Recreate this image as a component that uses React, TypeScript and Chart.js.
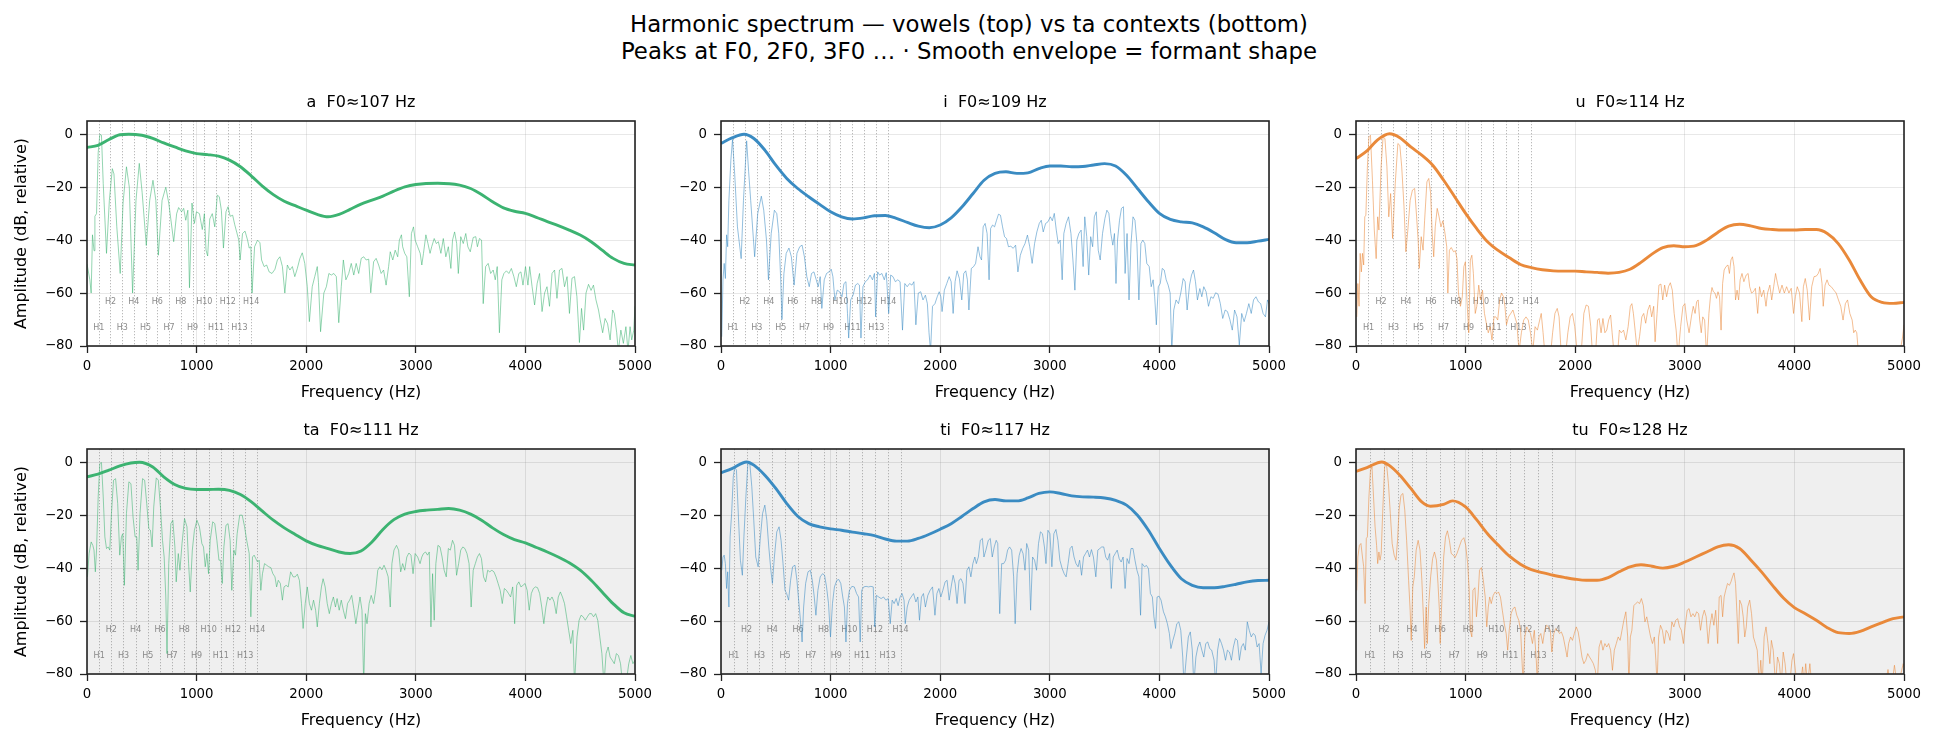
import React, { useEffect, useRef } from "react";
import { Chart, registerables } from "chart.js";
Chart.register(...registerables);

const FONT = "'DejaVu Sans', 'Liberation Sans', sans-serif";

const SUPTITLE_LINES = [
  "Harmonic spectrum — vowels (top) vs ta contexts (bottom)",
  "Peaks at F0, 2F0, 3F0 … · Smooth envelope = formant shape",
];
const X_AXIS_TITLE = "Frequency (Hz)";
const Y_AXIS_TITLE = "Amplitude (dB, relative)";

const PANEL_LABELS = ["a", "i", "u", "ta", "ti", "tu"];
const PANEL_F0 = [107, 109, 114, 111, 117, 128];
const HARMONIC_NUMBERS = [1, 2, 3, 4, 5, 6, 7, 8, 9, 10, 11, 12, 13, 14];
const X_TICKS = [0, 1000, 2000, 3000, 4000, 5000];
const Y_TICKS = [-80, -60, -40, -20, 0];

const A_ENVELOPE = [[0,-5],[100,-4.2],[200,-2],[300,-0.2],[380,0],[500,-0.4],[600,-1.6],[700,-3.3],[800,-4.8],[900,-6.3],[1000,-7.3],[1100,-7.7],[1200,-8.3],[1300,-9.8],[1400,-12.3],[1500,-15.8],[1600,-19.6],[1700,-22.8],[1800,-25.3],[1900,-27],[2000,-28.7],[2100,-30.3],[2200,-31.2],[2300,-30.3],[2400,-28.4],[2500,-26.4],[2600,-24.9],[2700,-23.4],[2800,-21.5],[2900,-19.9],[3000,-19],[3200,-18.5],[3400,-19.2],[3500,-20.5],[3600,-22.8],[3700,-25.5],[3800,-27.8],[3900,-29.1],[4000,-29.9],[4100,-31.4],[4200,-33],[4300,-34.5],[4400,-36.2],[4500,-38.1],[4600,-40.6],[4700,-43.8],[4800,-46.9],[4900,-48.8],[5000,-49.4]];

const I_ENVELOPE = [[0,-3.5],[100,-1.4],[210,0],[300,-1.6],[400,-6],[500,-11.7],[600,-16.7],[700,-20.5],[800,-23.6],[900,-26.5],[1000,-29.3],[1100,-31.2],[1200,-32],[1300,-31.6],[1400,-30.8],[1500,-30.7],[1600,-31.8],[1700,-33.3],[1800,-34.7],[1900,-35.3],[2000,-34.3],[2100,-31.6],[2200,-27.4],[2300,-22.4],[2400,-17.4],[2500,-14.8],[2600,-14.2],[2700,-14.8],[2800,-14.6],[2900,-13],[3000,-12],[3100,-12],[3200,-12.3],[3300,-12.2],[3400,-11.6],[3500,-11.1],[3600,-12],[3700,-15.5],[3800,-20.5],[3900,-25.5],[4000,-29.9],[4100,-32.2],[4200,-33.1],[4300,-33.5],[4400,-35],[4500,-37.2],[4600,-39.7],[4700,-41],[4800,-41],[4900,-40.4],[5000,-39.7]];

const U_ENVELOPE = [[0,-9.2],[100,-6.3],[200,-2],[306,0.2],[400,-1.3],[500,-4.8],[600,-7.9],[700,-11.7],[800,-17.4],[900,-23.6],[1000,-29.9],[1100,-35.6],[1200,-40.6],[1300,-44],[1400,-46.7],[1500,-49.2],[1600,-50.4],[1700,-51.2],[1800,-51.6],[1900,-51.7],[2000,-51.7],[2100,-52],[2200,-52.2],[2300,-52.5],[2400,-52.2],[2500,-51],[2600,-48.4],[2700,-45.3],[2800,-42.8],[2900,-42.1],[3000,-42.5],[3100,-42.1],[3200,-40],[3300,-37.1],[3400,-34.7],[3500,-34],[3600,-34.6],[3700,-35.6],[3800,-36],[3900,-36.2],[4000,-36.2],[4100,-36],[4200,-36],[4300,-37.5],[4400,-41.3],[4500,-47.5],[4600,-55.1],[4700,-61.4],[4800,-63.5],[4900,-63.9],[5000,-63.5]];

const TA_ENVELOPE = [[0,-5.5],[100,-4.5],[200,-3],[300,-1.4],[400,-0.3],[480,0],[600,-1.8],[700,-5.5],[800,-8.4],[900,-9.9],[1000,-10.3],[1100,-10.3],[1200,-10.2],[1300,-10.6],[1400,-12.2],[1500,-15],[1600,-18.5],[1700,-21.9],[1800,-24.8],[1900,-27.3],[2000,-29.7],[2100,-31.4],[2200,-32.6],[2300,-33.9],[2400,-34.5],[2500,-33.5],[2600,-30.1],[2700,-25.4],[2800,-21.7],[2900,-19.6],[3000,-18.6],[3100,-18.1],[3200,-17.8],[3300,-17.5],[3400,-18.1],[3500,-19.6],[3600,-21.9],[3700,-24.8],[3800,-27.3],[3900,-29.2],[4000,-30.5],[4100,-32.2],[4200,-33.9],[4300,-35.8],[4400,-38],[4500,-40.8],[4600,-44.6],[4700,-49],[4800,-53.4],[4900,-56.9],[5000,-58.2]];

const TI_ENVELOPE = [[0,-4],[100,-2.4],[234,0.1],[300,-1.1],[400,-4.9],[500,-9.9],[600,-15.6],[700,-20.4],[800,-23.2],[900,-24.4],[1000,-25.2],[1100,-25.7],[1200,-26.4],[1300,-27],[1400,-27.7],[1500,-29],[1600,-29.8],[1700,-29.8],[1800,-28.8],[1900,-27.2],[2000,-25.3],[2100,-23.2],[2200,-20.4],[2300,-17.5],[2400,-15],[2500,-14.1],[2600,-14.6],[2700,-14.6],[2800,-13.5],[2900,-11.8],[3000,-11.2],[3100,-11.8],[3200,-12.7],[3300,-13.1],[3400,-13.2],[3500,-13.5],[3600,-14.4],[3700,-16.2],[3800,-20],[3900,-25.7],[4000,-32.6],[4100,-38.9],[4200,-44],[4300,-46.5],[4400,-47.4],[4500,-47.4],[4600,-46.9],[4700,-46.1],[4800,-45.2],[4900,-44.7],[5000,-44.6]];

const TU_ENVELOPE = [[0,-3.5],[100,-2],[236,0.1],[300,-1.1],[400,-4.9],[500,-9.9],[600,-15],[680,-16.6],[800,-15.9],[880,-14.6],[1000,-16.9],[1100,-21.7],[1200,-27],[1300,-31.4],[1400,-35.5],[1500,-38.5],[1600,-40.6],[1700,-41.7],[1800,-42.7],[1900,-43.5],[2000,-44.2],[2100,-44.6],[2200,-44.6],[2300,-43.6],[2400,-41.4],[2500,-39.5],[2600,-38.7],[2700,-39.3],[2800,-40],[2900,-39.3],[3000,-37.7],[3100,-35.8],[3200,-33.9],[3300,-32],[3400,-31.2],[3500,-32.6],[3600,-36.8],[3700,-41.4],[3800,-46.5],[3900,-51.3],[4000,-54.9],[4100,-57.2],[4200,-59.7],[4300,-62.5],[4400,-64.4],[4500,-64.7],[4600,-63.9],[4700,-62.2],[4800,-60.6],[4900,-59.1],[5000,-58.4]];

const A_SPECTRUM = [[0,-49],[26,-55],[38,-60],[50,-38],[64,-44],[72,-31],[87,-30],[102,-7],[117,0],[132,-0.4],[148,-18.6],[178,-45],[204,-25],[231,-13],[246,-15],[272,-35],[303,-52.6],[329,-26],[360,-12.3],[386,-20],[416,-60],[447,-25],[477,-11],[503,-22],[541,-42],[572,-25],[602,-17.4],[628,-25],[651,-45.7],[685,-25],[719,-20],[746,-26],[791,-40.6],[818,-30],[836,-27.7],[863,-29.3],[882,-28],[901,-32.5],[920,-28.7],[935,-58],[958,-26],[980,-33.7],[999,-29.3],[1026,-30],[1052,-36],[1071,-30],[1086,-43.8],[1101,-46],[1120,-32],[1143,-30],[1166,-35],[1189,-23],[1207,-23.6],[1226,-28.7],[1245,-43],[1268,-29.3],[1287,-27.4],[1306,-31],[1329,-30.6],[1347,-34],[1366,-37],[1385,-40],[1397,-47.5],[1419,-37.5],[1442,-36.6],[1465,-40],[1480,-43],[1495,-42.5],[1506,-60],[1529,-42.5],[1556,-40],[1578,-41],[1593,-47.5],[1616,-50],[1639,-49.4],[1662,-52],[1688,-52.6],[1715,-51],[1737,-47.5],[1760,-46.3],[1783,-50],[1805,-60],[1828,-49.4],[1851,-51.3],[1874,-50],[1896,-53.8],[1919,-50.7],[1942,-47],[1964,-44.8],[1987,-48.8],[2010,-57.6],[2029,-70.8],[2055,-57.6],[2078,-53.8],[2101,-50],[2112,-56],[2131,-74.6],[2161,-60],[2184,-57.6],[2207,-52.6],[2229,-53.2],[2252,-52.6],[2275,-53.8],[2297,-71.2],[2320,-57.6],[2339,-47.5],[2362,-55],[2388,-52.6],[2411,-48.8],[2434,-53.2],[2456,-48.8],[2479,-52.6],[2502,-46.9],[2525,-46.3],[2547,-47.5],[2570,-47.2],[2589,-59.9],[2615,-48.2],[2638,-46.9],[2661,-49.4],[2684,-52.6],[2706,-51.3],[2729,-57],[2752,-50],[2767,-44.4],[2790,-47.5],[2812,-43.8],[2835,-46.3],[2850,-40],[2869,-38],[2880,-42.5],[2899,-45],[2918,-46.3],[2941,-61.4],[2960,-37.5],[2979,-35],[2994,-40],[3017,-42.5],[3040,-45],[3055,-49.4],[3070,-45],[3092,-38],[3111,-41.3],[3130,-45],[3145,-42.5],[3168,-39.4],[3187,-41.3],[3206,-40.6],[3229,-45],[3251,-39.4],[3274,-46.3],[3297,-42.5],[3320,-50.7],[3335,-40],[3354,-36.9],[3373,-41.3],[3388,-52.6],[3410,-38.7],[3433,-41.3],[3456,-37.5],[3475,-42.5],[3497,-44.4],[3524,-39],[3547,-38.7],[3562,-42.5],[3581,-39.4],[3600,-40],[3615,-64],[3637,-50],[3660,-48.8],[3683,-52.6],[3706,-51.3],[3725,-55],[3743,-50],[3763,-75],[3785,-55],[3804,-52.6],[3827,-51.6],[3849,-52.6],[3872,-50.7],[3895,-53.8],[3917,-57.6],[3940,-52.6],[3959,-52],[3978,-57],[4001,-50],[4023,-57],[4039,-50],[4061,-57.6],[4084,-64.5],[4107,-56.4],[4129,-52.6],[4152,-67],[4175,-60],[4197,-57.6],[4220,-65],[4243,-52.6],[4266,-51.3],[4288,-62],[4311,-51.3],[4334,-50.7],[4357,-57.6],[4380,-53.8],[4402,-67.7],[4425,-54.4],[4448,-53.8],[4470,-61.4],[4493,-78.7],[4512,-65.8],[4531,-74],[4553,-60],[4576,-56.7],[4599,-59],[4621,-57],[4644,-62.6],[4667,-66.4],[4682,-70],[4705,-75],[4727,-69.6],[4750,-71.6],[4773,-77.7],[4796,-66.4],[4811,-67.7],[4833,-75],[4848,-82],[4871,-74],[4894,-79],[4917,-72.7],[4936,-82],[4955,-72.7],[4970,-77.7],[4989,-74],[5000,-65]];

const I_SPECTRUM = [[7,-76.5],[18,-55],[29,-48.8],[40,-54.5],[51,-38],[61,-42.5],[72,-25],[90,-9.8],[105,-2],[125,-15],[150,-35],[184,-47],[205,-25],[234,-2.5],[252,-14],[271,-25],[307,-46.3],[335,-30],[368,-23.4],[390,-28.7],[415,-40],[433,-55],[458,-37.5],[487,-28.7],[509,-30],[527,-37.5],[545,-55],[556,-70],[574,-52.6],[595,-45],[620,-43],[642,-46.3],[667,-57],[693,-45],[718,-42.5],[740,-41.9],[761,-46.3],[783,-53.8],[805,-57.6],[826,-52.6],[848,-52],[869,-55],[887,-57.6],[905,-53.8],[920,-65.8],[942,-55],[963,-52.6],[985,-52],[1006,-51],[1021,-53.8],[1039,-62.6],[1061,-58.9],[1082,-59.5],[1104,-61.4],[1122,-56.4],[1140,-55.7],[1154,-67.7],[1165,-77],[1183,-62.6],[1205,-60.8],[1227,-57],[1248,-56.4],[1263,-57],[1277,-77],[1295,-57.6],[1317,-55.7],[1338,-55],[1360,-53.2],[1382,-55],[1400,-52.6],[1411,-69],[1429,-52],[1447,-53.2],[1468,-52.6],[1490,-55],[1508,-52.3],[1530,-67.7],[1548,-53.2],[1569,-53.8],[1591,-55.7],[1613,-55],[1634,-55.7],[1656,-74],[1677,-56.4],[1699,-57.6],[1721,-56.4],[1742,-57],[1760,-55.7],[1778,-72],[1800,-60],[1822,-59.5],[1843,-62.6],[1865,-60.8],[1883,-64],[1898,-75],[1912,-82],[1930,-65],[1952,-64],[1973,-61.4],[1991,-59.5],[2006,-61.4],[2017,-67],[2038,-58.9],[2060,-56.4],[2082,-53.8],[2100,-55.7],[2118,-67.7],[2136,-55.7],[2154,-51.6],[2175,-54.5],[2197,-62.6],[2215,-52.6],[2233,-51.6],[2248,-55],[2262,-66.4],[2284,-50.7],[2305,-50],[2323,-48.8],[2345,-42.5],[2363,-46.3],[2377,-47.5],[2392,-35],[2410,-33.7],[2428,-37.5],[2446,-55],[2460,-35.6],[2478,-34.3],[2496,-35],[2514,-32.5],[2532,-30.2],[2550,-30.6],[2569,-35],[2587,-38.7],[2605,-39.4],[2623,-42.5],[2644,-42.3],[2666,-43.1],[2688,-41.9],[2709,-52],[2731,-45.7],[2753,-43.1],[2774,-41.3],[2796,-38.1],[2817,-42.5],[2839,-48.8],[2861,-41.3],[2882,-36.9],[2904,-33.7],[2922,-32.5],[2940,-36.9],[2962,-33.7],[2983,-33.1],[3005,-31.2],[3023,-32.7],[3041,-29.9],[3059,-36.2],[3077,-41.3],[3095,-40],[3113,-55],[3128,-37.5],[3149,-33.7],[3171,-31.2],[3193,-37.5],[3211,-47.5],[3229,-58.9],[3247,-40],[3265,-37.5],[3286,-36.2],[3304,-50],[3319,-31.2],[3337,-38.7],[3355,-53.2],[3373,-38.7],[3391,-42.5],[3406,-31.2],[3424,-29.3],[3442,-43.8],[3460,-47.5],[3481,-37.5],[3503,-31.8],[3521,-28.7],[3539,-29.9],[3557,-37.5],[3575,-41.9],[3590,-37.5],[3604,-56.4],[3618,-40],[3636,-32.5],[3654,-28],[3672,-27.4],[3687,-52.6],[3705,-37.5],[3723,-62.6],[3741,-41.3],[3759,-31.2],[3777,-32.5],[3795,-41.3],[3813,-62.6],[3831,-41.3],[3849,-40],[3867,-41.3],[3885,-48.8],[3907,-50],[3925,-57.6],[3943,-55],[3957,-61.4],[3972,-72],[3990,-57.6],[4008,-56.4],[4026,-50.7],[4044,-51.3],[4062,-55],[4080,-57],[4098,-60],[4113,-82],[4131,-66.4],[4152,-62.6],[4174,-64],[4195,-60],[4217,-54.5],[4235,-55.7],[4253,-66.4],[4275,-57],[4293,-53.2],[4311,-51.3],[4329,-55.7],[4347,-62.6],[4369,-58.3],[4387,-61.4],[4405,-57.6],[4426,-59.5],[4448,-65],[4470,-61.4],[4491,-62],[4513,-59.9],[4535,-60.4],[4556,-64],[4578,-69.6],[4600,-66.4],[4621,-67],[4643,-70],[4665,-74],[4686,-66.4],[4708,-69],[4729,-79.6],[4751,-67.7],[4773,-70.8],[4794,-67.7],[4816,-64],[4838,-67.7],[4859,-62.6],[4881,-61.4],[4903,-63.3],[4924,-64],[4946,-67.7],[4968,-69],[4986,-62.6],[5000,-64]];

const U_SPECTRUM = [[7,-69],[17,-56.4],[28,-65],[38,-45],[49,-52],[59,-45],[70,-49.4],[80,-31.2],[90,-30.6],[104,-12.3],[118,-1],[132,-0.4],[150,-17.4],[167,-36.2],[184,-47],[198,-31.2],[209,-36.2],[229,-12.3],[247,-1],[264,-1.6],[282,-12.3],[299,-31.2],[316,-22.4],[334,-39.4],[358,-18.6],[382,-3.5],[400,-4.2],[417,-12.3],[438,-27.4],[455,-44.4],[473,-36.2],[494,-25],[515,-21.1],[535,-20.5],[553,-31.2],[567,-40],[577,-50.7],[595,-38.7],[612,-43.8],[626,-32.5],[647,-18],[664,-16.7],[681,-22.4],[695,-37.5],[709,-46.3],[723,-35],[741,-28],[758,-31.2],[775,-35],[793,-32.7],[810,-36.9],[828,-42.5],[838,-60],[852,-43.8],[869,-42.8],[890,-44.4],[907,-44],[921,-47],[935,-60],[953,-65],[970,-61.4],[984,-50],[998,-48.2],[1012,-62.6],[1029,-75],[1043,-47.5],[1057,-45.7],[1071,-52.6],[1088,-67.7],[1102,-65],[1120,-57],[1137,-62.6],[1154,-58.9],[1172,-67.7],[1189,-71.4],[1207,-75],[1224,-72.7],[1241,-77.7],[1259,-69],[1276,-69],[1293,-70.2],[1311,-62.6],[1328,-60],[1346,-61.4],[1359,-65],[1373,-72],[1391,-69],[1412,-67.7],[1432,-66.4],[1450,-69],[1467,-71.4],[1488,-82],[1509,-75],[1530,-70.2],[1551,-69],[1572,-70.2],[1592,-75],[1613,-82],[1634,-72.7],[1655,-74],[1676,-70.2],[1690,-67.7],[1707,-75],[1725,-84],[1749,-88],[1773,-84],[1794,-75],[1815,-67.7],[1836,-65.8],[1853,-69],[1871,-82],[1905,-86],[1933,-75],[1954,-69],[1975,-67.7],[1996,-72.7],[2017,-82],[2051,-85],[2079,-67.7],[2100,-64.5],[2121,-65],[2142,-72.7],[2156,-82],[2184,-84],[2204,-70.2],[2218,-69.6],[2236,-75],[2253,-69.6],[2271,-75],[2288,-74],[2305,-70.2],[2323,-68.3],[2337,-75],[2357,-84],[2385,-84],[2403,-74],[2420,-75],[2441,-74],[2462,-77.7],[2483,-72.7],[2503,-65],[2517,-64],[2531,-67.7],[2549,-75],[2566,-82],[2587,-76.5],[2608,-69],[2625,-67.7],[2643,-71.4],[2663,-66.4],[2681,-64.5],[2698,-69],[2716,-65],[2729,-78.4],[2747,-67.7],[2764,-57],[2782,-56.6],[2799,-62.6],[2816,-57],[2834,-61.4],[2851,-57.6],[2868,-56.1],[2886,-58.9],[2903,-67.7],[2921,-74],[2938,-84],[2962,-72.7],[2983,-65],[3001,-64],[3018,-70.2],[3039,-75],[3060,-69],[3077,-65],[3094,-67.7],[3108,-63.3],[3122,-62.6],[3136,-70.2],[3150,-75],[3164,-69],[3181,-70.2],[3199,-84],[3220,-67.7],[3234,-61.4],[3248,-57.9],[3261,-59.5],[3275,-60],[3289,-62],[3303,-59.5],[3317,-61.4],[3331,-74],[3345,-56.4],[3359,-51.3],[3376,-50],[3394,-49.4],[3407,-52.6],[3421,-47.5],[3435,-46.3],[3449,-50],[3463,-62.6],[3477,-58.9],[3491,-62.6],[3505,-55],[3522,-52.6],[3539,-55.7],[3560,-53.2],[3578,-52.6],[3592,-57.6],[3609,-60],[3626,-59.5],[3644,-58.2],[3665,-67.7],[3682,-57.6],[3700,-61.4],[3720,-58.9],[3741,-65],[3755,-60],[3776,-57],[3793,-62.6],[3811,-57.6],[3828,-52.6],[3846,-56.4],[3866,-60],[3887,-57],[3908,-60],[3929,-57.6],[3950,-60],[3971,-58.2],[3992,-67.7],[4009,-61.4],[4026,-57.6],[4047,-60],[4068,-70.8],[4082,-57.6],[4099,-54.5],[4117,-58.9],[4138,-70.2],[4158,-57.6],[4179,-53.8],[4200,-53.6],[4218,-52.6],[4235,-50.7],[4252,-56.4],[4263,-65],[4280,-57],[4298,-55],[4315,-57],[4336,-57.6],[4360,-58.9],[4381,-60],[4402,-62.6],[4423,-65],[4444,-70.2],[4465,-64],[4485,-62.6],[4506,-67.7],[4527,-70.2],[4541,-75],[4555,-74],[4569,-75],[4583,-82],[4650,-90],[4800,-94],[4950,-85],[4986,-77],[5000,-72]];

const TA_SPECTRUM = [[4,-43.3],[19,-34.5],[38,-30.1],[53,-31.4],[64,-33.2],[76,-41.4],[87,-33.2],[102,-13.1],[117,-0.5],[132,-0.1],[148,-13.1],[163,-28.2],[178,-32.6],[193,-32],[208,-33.2],[223,-19.4],[242,-6.8],[261,-6.2],[280,-15.6],[299,-35.1],[314,-28.2],[326,-27],[341,-46.5],[360,-19.4],[382,-7.4],[401,-8.1],[420,-20.7],[439,-28.2],[454,-28.2],[466,-40.8],[484,-19.4],[507,-6.2],[526,-6.8],[545,-15.6],[564,-25.1],[579,-25.7],[594,-32],[609,-16.9],[632,-5.9],[651,-6.8],[670,-16.9],[689,-29.5],[704,-35.8],[719,-50.9],[730,-72.3],[746,-38.3],[765,-23.2],[783,-21.9],[802,-32],[814,-45.2],[833,-34.5],[848,-40.8],[867,-30.7],[890,-21.3],[912,-24.4],[927,-38.3],[942,-49],[961,-33.2],[980,-25.7],[1003,-21.9],[1026,-24.4],[1048,-30.7],[1063,-32],[1079,-39.5],[1094,-34.5],[1109,-42.1],[1124,-29.5],[1147,-22.5],[1166,-23.2],[1185,-29.5],[1204,-37],[1219,-37],[1234,-45.8],[1249,-32],[1268,-23.8],[1287,-23.2],[1306,-29.5],[1321,-48.4],[1340,-33.2],[1355,-35.1],[1370,-27],[1393,-20],[1416,-20],[1438,-24.4],[1457,-29.5],[1480,-34.5],[1495,-58.4],[1510,-35.8],[1525,-35.1],[1540,-36.4],[1556,-37.7],[1571,-37],[1586,-48.4],[1601,-42.1],[1620,-38.3],[1639,-38.9],[1658,-39.5],[1677,-39.8],[1696,-42.1],[1715,-43.3],[1730,-47.1],[1745,-44.6],[1764,-45.8],[1783,-52.1],[1798,-47.1],[1817,-46.5],[1836,-47.1],[1858,-41.4],[1881,-43.3],[1900,-43.3],[1919,-42.3],[1938,-44.6],[1957,-53.4],[1972,-62.8],[1991,-53.4],[2010,-47.1],[2029,-53.4],[2048,-55.9],[2067,-52.1],[2086,-55.9],[2101,-62.2],[2120,-53.4],[2139,-47.1],[2154,-44],[2173,-47.1],[2192,-53.4],[2211,-57.2],[2230,-53.4],[2248,-50.9],[2267,-54.7],[2282,-51.5],[2301,-55.9],[2320,-52.1],[2339,-55.9],[2358,-59.1],[2377,-53.4],[2396,-52.1],[2415,-50.3],[2434,-55.3],[2453,-61],[2472,-55.9],[2491,-50.9],[2509,-55.9],[2525,-84],[2540,-57.2],[2555,-61],[2574,-53.4],[2593,-50.3],[2615,-53.4],[2634,-48.4],[2653,-40.8],[2672,-39.5],[2691,-40.6],[2710,-38.9],[2729,-40.8],[2748,-43.3],[2767,-54.7],[2782,-38.3],[2801,-33.2],[2824,-31.4],[2843,-33.2],[2862,-41.4],[2880,-38.3],[2899,-40.8],[2918,-35.8],[2937,-34.3],[2956,-35.1],[2975,-42.1],[2994,-34.5],[3017,-35.8],[3039,-38.3],[3055,-35.8],[3070,-34.5],[3089,-33.9],[3107,-35.1],[3123,-33.9],[3138,-62.2],[3153,-42.1],[3168,-59.7],[3183,-38.3],[3202,-31.4],[3221,-32],[3240,-35.8],[3259,-40.8],[3278,-43.3],[3297,-32.6],[3315,-33.2],[3335,-29.5],[3353,-31.4],[3372,-42.7],[3391,-38.3],[3410,-33.2],[3429,-32],[3448,-32.6],[3467,-34.5],[3486,-38.3],[3505,-54.7],[3524,-40.8],[3543,-38.3],[3562,-35.8],[3581,-34.5],[3599,-36.4],[3618,-43.3],[3637,-45.2],[3656,-40.8],[3675,-41.4],[3694,-40.8],[3713,-41.4],[3732,-43.3],[3751,-45.8],[3770,-48.4],[3789,-53.4],[3808,-47.7],[3827,-48.4],[3846,-49.6],[3865,-50.9],[3884,-47.1],[3902,-61],[3921,-46.5],[3940,-45.2],[3959,-47.1],[3978,-46.5],[3997,-45.8],[4016,-48.4],[4035,-55.9],[4054,-49.6],[4073,-47.7],[4092,-47.1],[4111,-47.4],[4130,-49.6],[4149,-54.7],[4168,-61],[4187,-54.7],[4205,-50.9],[4224,-52.1],[4243,-50.9],[4262,-52.8],[4281,-57.2],[4300,-50.9],[4319,-49],[4338,-50.9],[4357,-53.4],[4376,-58.4],[4395,-63.5],[4414,-68.5],[4433,-63.5],[4448,-84],[4471,-66],[4490,-59.7],[4508,-57.8],[4527,-58.4],[4546,-59.7],[4565,-58.4],[4584,-57.2],[4603,-57.2],[4622,-58.4],[4641,-57.2],[4660,-59.7],[4679,-66],[4698,-72.3],[4717,-84],[4736,-72.3],[4755,-69.8],[4773,-73.6],[4792,-74.8],[4811,-76.1],[4830,-72.3],[4849,-73],[4868,-76.1],[4887,-84],[4917,-84],[4943,-76.1],[4962,-73],[4981,-76.1],[5000,-74.8]];

const TI_SPECTRUM = [[7,-40.8],[18,-35.8],[29,-35.1],[40,-38.3],[51,-47.7],[61,-41.4],[72,-54.7],[83,-28.2],[97,-19.4],[112,-5.5],[126,-1.8],[141,-3],[159,-20.7],[177,-37],[195,-42.7],[209,-28.2],[227,-13.1],[245,-0.5],[263,-0.5],[281,-9.3],[299,-21.9],[317,-35.8],[339,-39.5],[357,-29.5],[379,-19.4],[400,-16.2],[418,-21.9],[436,-32],[455,-40.8],[469,-45.8],[487,-35.8],[509,-26.3],[530,-24.4],[548,-29.5],[566,-38.3],[584,-48.4],[599,-49.6],[617,-52.1],[635,-44.6],[653,-39.5],[675,-38.9],[693,-44.6],[711,-53.4],[725,-59.7],[740,-67.9],[754,-54.7],[772,-45.8],[794,-41.4],[815,-40.8],[833,-44.6],[851,-50.9],[866,-57.8],[884,-48.4],[905,-43.3],[927,-42.1],[945,-42.7],[963,-47.1],[981,-53.4],[999,-66],[1017,-53.4],[1035,-47.1],[1057,-44.6],[1075,-44.3],[1093,-45.8],[1111,-50.9],[1126,-54.7],[1140,-67.9],[1154,-53.4],[1172,-48.4],[1194,-46.9],[1216,-47.1],[1237,-49.6],[1255,-50.9],[1270,-67.9],[1284,-48.4],[1302,-47.1],[1324,-46.9],[1346,-47.1],[1367,-46.9],[1389,-47.1],[1403,-62.2],[1418,-50.3],[1439,-50.9],[1461,-51.5],[1483,-50.9],[1504,-52.1],[1526,-51.5],[1544,-61],[1562,-52.1],[1580,-53.4],[1598,-51.5],[1616,-54.2],[1634,-50.9],[1652,-49.6],[1670,-52.1],[1681,-61],[1699,-54.7],[1717,-52.1],[1735,-50.9],[1757,-49.6],[1778,-52.8],[1796,-50.9],[1811,-59.7],[1829,-50.9],[1847,-49.6],[1865,-54.7],[1887,-50.3],[1908,-48.4],[1930,-47.1],[1952,-57.8],[1970,-49.6],[1988,-47.7],[2006,-50.9],[2024,-48.4],[2045,-45.2],[2063,-44.6],[2082,-52.1],[2100,-47.1],[2118,-42.7],[2136,-45.8],[2154,-53.4],[2172,-44.6],[2190,-44],[2208,-45.8],[2226,-53.4],[2244,-40.8],[2262,-39.5],[2280,-43.3],[2298,-38.3],[2316,-35.8],[2330,-38.3],[2348,-35.8],[2366,-29.5],[2385,-28.8],[2399,-35.8],[2417,-33.2],[2439,-29.5],[2457,-28.8],[2475,-35.8],[2493,-32],[2511,-29.5],[2525,-30.7],[2543,-57.2],[2561,-38.3],[2579,-38.3],[2597,-37],[2615,-33.2],[2633,-32],[2652,-33.2],[2670,-43.3],[2684,-61],[2702,-42.1],[2720,-35.3],[2738,-32.6],[2756,-34.5],[2774,-40.8],[2789,-30.7],[2807,-33.2],[2825,-55.9],[2843,-35.8],[2861,-37],[2879,-40.8],[2897,-30.7],[2915,-26.3],[2933,-27],[2951,-32],[2965,-38.3],[2983,-25.7],[3001,-27],[3019,-39.5],[3037,-27],[3056,-25.4],[3074,-29.5],[3092,-37],[3113,-40.2],[3131,-42.1],[3149,-43.3],[3167,-38.3],[3185,-32.6],[3203,-31.7],[3221,-35.8],[3239,-38.3],[3258,-39.5],[3272,-37],[3290,-42.7],[3308,-35.8],[3326,-34.5],[3344,-33.2],[3362,-35.8],[3380,-33],[3398,-35.8],[3420,-43.3],[3438,-33.2],[3456,-32.6],[3474,-32],[3492,-32],[3510,-35.8],[3528,-37],[3546,-34.5],[3561,-47.7],[3579,-35.8],[3597,-34.5],[3615,-33.2],[3633,-36.4],[3651,-37.7],[3669,-35.8],[3687,-47.7],[3705,-36.4],[3723,-38.3],[3741,-32.6],[3759,-32.6],[3777,-37],[3795,-40.8],[3813,-43.3],[3828,-57.8],[3842,-38.3],[3864,-39.5],[3882,-39],[3900,-40.2],[3918,-49.6],[3936,-50.9],[3950,-58.4],[3965,-62.8],[3979,-50.9],[3997,-50.6],[4015,-52.1],[4037,-56.5],[4055,-58.4],[4073,-61],[4091,-64.7],[4105,-70.4],[4123,-67.3],[4141,-64.7],[4159,-61],[4177,-60.3],[4195,-63.5],[4213,-73.6],[4224,-84],[4246,-73.6],[4264,-66],[4282,-64.1],[4300,-71],[4314,-84],[4333,-73.6],[4351,-69.8],[4369,-67.9],[4387,-71],[4405,-73.6],[4423,-68.5],[4441,-67.9],[4459,-70.4],[4477,-71],[4499,-74.8],[4513,-84],[4531,-71],[4549,-66.6],[4567,-68.5],[4585,-71],[4603,-74.8],[4621,-71],[4639,-71.7],[4657,-74.8],[4675,-69.8],[4694,-66.6],[4712,-67.3],[4730,-74.8],[4748,-69.8],[4766,-68.5],[4784,-71],[4802,-60.3],[4820,-63.5],[4838,-66],[4856,-64.7],[4874,-65.4],[4892,-69.8],[4910,-68.5],[4928,-79.8],[4946,-68.5],[4964,-65.4],[4982,-63.5],[5000,-60.3]];

const TU_SPECTRUM = [[7,-48.4],[17,-35.8],[31,-31.4],[45,-30.7],[59,-35.8],[70,-39.5],[83,-53.4],[94,-28.8],[104,-28.2],[118,-13.1],[132,-3],[146,-1.8],[160,-13.1],[174,-24.4],[188,-31.4],[198,-38.3],[209,-33.9],[219,-37],[230,-34.5],[243,-19.4],[261,-1.8],[278,-0.5],[296,-8.1],[313,-19.4],[330,-30.7],[348,-35.1],[365,-37],[379,-29.5],[393,-18.1],[410,-12.5],[428,-11.8],[445,-18.1],[462,-29.5],[480,-44.6],[494,-55.9],[504,-67.3],[518,-47.1],[532,-43.3],[549,-33.2],[567,-29.5],[584,-33.2],[601,-44.6],[615,-58.4],[626,-70.4],[640,-54.7],[650,-68.5],[664,-53.4],[681,-43.3],[699,-36.4],[716,-33.9],[734,-37],[748,-45.8],[761,-55.9],[768,-68.5],[782,-53.4],[800,-35.8],[817,-28.2],[834,-25.9],[852,-29.5],[869,-34.5],[887,-35.1],[904,-36],[921,-34.5],[942,-32],[963,-29.5],[984,-28.5],[1001,-31.4],[1019,-38.3],[1033,-48.4],[1043,-63.5],[1057,-66],[1067,-48.4],[1085,-47.4],[1099,-58.4],[1113,-50.9],[1127,-40.8],[1144,-39.8],[1161,-44.3],[1179,-50.9],[1193,-62.2],[1207,-54.7],[1220,-50.9],[1234,-53.4],[1252,-50.3],[1269,-49],[1286,-49.6],[1300,-49],[1318,-50.9],[1335,-55.9],[1353,-61],[1370,-64.7],[1384,-71],[1398,-63.5],[1415,-57.2],[1433,-55.3],[1450,-54.7],[1467,-57.8],[1485,-59.7],[1502,-63.5],[1516,-76.1],[1526,-84],[1540,-66],[1558,-62.2],[1575,-63.5],[1592,-64.7],[1610,-68.5],[1627,-63.5],[1645,-74.8],[1655,-84],[1669,-66],[1686,-64.7],[1704,-68.5],[1721,-63.5],[1739,-61.6],[1756,-62.2],[1773,-63.5],[1787,-71.7],[1805,-64.7],[1822,-62.8],[1839,-63.5],[1857,-64.7],[1874,-64.1],[1891,-66],[1909,-69.8],[1926,-73.6],[1940,-68.5],[1958,-66],[1975,-67.3],[1992,-64.7],[2010,-62.2],[2027,-64.1],[2044,-68.5],[2062,-73.6],[2079,-76.1],[2097,-74.8],[2114,-72.3],[2131,-73.6],[2149,-74.8],[2166,-76.1],[2184,-78.6],[2201,-84],[2218,-69.8],[2236,-67.3],[2253,-71],[2271,-68.5],[2288,-69.8],[2305,-68.5],[2323,-71],[2340,-78.6],[2357,-71],[2375,-68.5],[2392,-66],[2410,-67.3],[2427,-63.5],[2444,-59.7],[2462,-56.5],[2479,-66],[2490,-84],[2503,-66],[2517,-63.5],[2535,-54.2],[2552,-53.4],[2570,-52.8],[2587,-53.4],[2604,-51.5],[2622,-54.2],[2636,-60.3],[2653,-58.4],[2670,-62.2],[2688,-66],[2705,-68.5],[2722,-66],[2736,-74.8],[2747,-84],[2761,-66],[2778,-61.6],[2796,-63.5],[2813,-68.5],[2830,-63.5],[2848,-64.7],[2865,-67.3],[2882,-60.3],[2900,-62.2],[2917,-59.7],[2935,-59.1],[2952,-62.2],[2969,-63.5],[2987,-68.5],[3004,-61.6],[3022,-55.9],[3039,-55.3],[3056,-58.4],[3074,-57.2],[3091,-58.4],[3108,-56.5],[3126,-57.2],[3143,-63.5],[3161,-58.4],[3178,-55.9],[3195,-58.4],[3213,-68.5],[3230,-61.6],[3248,-57.2],[3265,-61.6],[3282,-55.9],[3300,-68.5],[3314,-50.9],[3331,-50.3],[3345,-58.4],[3359,-50.9],[3373,-48.4],[3390,-45.8],[3407,-46.5],[3421,-45.2],[3435,-43.3],[3449,-41.8],[3463,-45.8],[3477,-58.4],[3488,-68.5],[3501,-52.1],[3519,-54],[3533,-58.4],[3547,-66],[3561,-62.2],[3574,-54.7],[3592,-52.1],[3609,-57.2],[3626,-66],[3644,-68.5],[3661,-71],[3679,-84],[3693,-74.8],[3706,-84],[3724,-66],[3741,-62.2],[3759,-68.5],[3776,-76.1],[3790,-67.3],[3807,-71],[3828,-84],[3846,-73.6],[3863,-76.1],[3880,-84],[3898,-71.7],[3915,-76.1],[3932,-84],[3957,-84],[3978,-74.8],[3992,-72.3],[4009,-78.6],[4026,-84],[4054,-84],[4075,-77.3],[4089,-84],[4103,-76.1],[4120,-84],[4141,-76.1],[4158,-84],[4300,-90],[4500,-94],[4700,-91],[4830,-84],[4854,-78.3],[4868,-82],[4896,-82],[4913,-76.7],[4930,-82],[4958,-82],[4979,-78.6],[4993,-76.1],[5000,-77.3]];

const PANEL_SPECTRA = [A_SPECTRUM, I_SPECTRUM, U_SPECTRUM, TA_SPECTRUM, TI_SPECTRUM, TU_SPECTRUM];
const PANEL_ENVELOPES = [A_ENVELOPE, I_ENVELOPE, U_ENVELOPE, TA_ENVELOPE, TI_ENVELOPE, TU_ENVELOPE];

const VOWEL_COLORS = {
  green: { line: "#3cb371", thin: "rgba(60,179,113,0.55)" },
  blue: { line: "#3a8bc2", thin: "rgba(58,139,194,0.55)" },
  orange: { line: "#e9893a", thin: "rgba(233,137,58,0.55)" },
};
const PANEL_COLOR_KEYS = ["green", "blue", "orange", "green", "blue", "orange"];

// layout (page pixels)
const COL_LEFT = [87, 721, 1356];
const ROW_TOP = [121, 449];
const PLOT_W = 548;
const PLOT_H = 225;
const Y_AXIS_W = 80;
const X_AXIS_H = 61;
const PAD_TOP = 40;
const PAD_RIGHT = 30;
const CANVAS_W = Y_AXIS_W + PLOT_W + PAD_RIGHT;
const CANVAS_H = PAD_TOP + PLOT_H + X_AXIS_H;

const decorPlugin = {
  id: "panelDecor",
  beforeDraw(chart: any, _args: any, opts: any) {
    const { ctx, chartArea: a } = chart;
    if (opts.bg) {
      ctx.save();
      ctx.fillStyle = opts.bg;
      ctx.fillRect(a.left, a.top, a.right - a.left, a.bottom - a.top);
      ctx.restore();
    }
  },
  beforeDatasetsDraw(chart: any, _args: any, opts: any) {
    const { ctx, chartArea: a, scales } = chart;
    const xs = scales.x;
    const ys = scales.y;
    ctx.save();
    ctx.beginPath();
    ctx.rect(a.left, a.top, a.right - a.left, a.bottom - a.top);
    ctx.clip();
    ctx.strokeStyle = "rgba(110,110,110,0.6)";
    ctx.lineWidth = 0.8;
    ctx.setLineDash([1.3, 1.7]);
    HARMONIC_NUMBERS.forEach((n) => {
      const px = Math.round(xs.getPixelForValue(n * opts.f0)) + 0.5;
      ctx.beginPath();
      ctx.moveTo(px, a.top);
      ctx.lineTo(px, a.bottom);
      ctx.stroke();
    });
    ctx.setLineDash([]);
    ctx.fillStyle = "rgba(125,125,125,0.9)";
    ctx.font = `8px ${FONT}`;
    ctx.textAlign = "center";
    ctx.textBaseline = "middle";
    HARMONIC_NUMBERS.forEach((n) => {
      const y = ys.getPixelForValue(n % 2 === 0 ? -63.3 : -73);
      ctx.fillText("H" + n, xs.getPixelForValue(n * opts.f0), y);
    });
    ctx.restore();
  },
  afterDraw(chart: any, _args: any, opts: any) {
    const { ctx, chartArea: a } = chart;
    ctx.save();
    ctx.strokeStyle = "#222";
    ctx.lineWidth = 1.6;
    ctx.strokeRect(a.left, a.top, a.right - a.left, a.bottom - a.top);
    ctx.fillStyle = "#000";
    ctx.font = `16px ${FONT}`;
    ctx.textAlign = "center";
    ctx.textBaseline = "middle";
    ctx.fillText(opts.title, (a.left + a.right) / 2, a.top - 18);
    ctx.restore();
  },
};

function Panel({ idx }: { idx: number }) {
  const ref = useRef<HTMLCanvasElement | null>(null);
  useEffect(() => {
    const colors = (VOWEL_COLORS as any)[PANEL_COLOR_KEYS[idx]];
    const spec = PANEL_SPECTRA[idx].map(([x, y]) => ({ x, y }));
    const env = PANEL_ENVELOPES[idx].map(([x, y]) => ({ x, y }));
    const col = idx % 3;
    const row = Math.floor(idx / 3);
    const gridColor = row === 1 ? "rgba(140,140,140,0.22)" : "rgba(150,150,150,0.22)";
    const chart = new Chart(ref.current as HTMLCanvasElement, {
      type: "line",
      data: {
        datasets: [
          {
            data: env,
            borderColor: colors.line,
            borderWidth: 2.9,
            pointRadius: 0,
            cubicInterpolationMode: "monotone",
            fill: false,
            order: 0,
          },
          {
            data: spec,
            borderColor: colors.thin,
            borderWidth: 1,
            pointRadius: 0,
            tension: 0,
            fill: false,
            order: 1,
          },
        ],
      },
      options: {
        responsive: false,
        animation: false,
        devicePixelRatio: 1,
        layout: { padding: { left: 0, top: PAD_TOP, right: PAD_RIGHT, bottom: 0 }, autoPadding: false },
        plugins: {
          legend: { display: false },
          tooltip: { enabled: false },
          title: { display: false },
          panelDecor: {
            f0: PANEL_F0[idx],
            bg: row === 1 ? "#efefef" : null,
            title: `${PANEL_LABELS[idx]}  F0≈${PANEL_F0[idx]} Hz`,
          },
        } as any,
        scales: {
          x: {
            type: "linear",
            min: 0,
            max: 5000,
            afterBuildTicks: (s: any) => {
              s.ticks = X_TICKS.map((value) => ({ value }));
            },
            afterFit: (s: any) => {
              s.height = X_AXIS_H;
            },
            ticks: {
              color: "#000",
              font: { family: FONT, size: 13.3 },
              padding: 6,
              maxRotation: 0,
              autoSkip: false,
              callback: (v: any) => String(v),
            },
            grid: {
              color: gridColor,
              lineWidth: 1,
              drawTicks: true,
              tickLength: 7,
              tickColor: "#222",
              tickWidth: 1.3,
            },
            border: { display: false },
            title: {
              display: true,
              text: X_AXIS_TITLE,
              color: "#000",
              font: { family: FONT, size: 16 },
              padding: { top: 0, bottom: 4.4 },
            },
          },
          y: {
            type: "linear",
            min: -80,
            max: 5,
            afterBuildTicks: (s: any) => {
              s.ticks = Y_TICKS.map((value) => ({ value }));
            },
            afterFit: (s: any) => {
              s.width = Y_AXIS_W;
            },
            ticks: {
              color: "#000",
              font: { family: FONT, size: 13.3 },
              padding: 7,
              autoSkip: false,
              callback: (v: any) => (v < 0 ? "\u2212" + Math.abs(v) : String(v)),
            },
            grid: {
              color: gridColor,
              lineWidth: 1,
              drawTicks: true,
              tickLength: 7,
              tickColor: "#222",
              tickWidth: 1.3,
            },
            border: { display: false },
            title: {
              display: col === 0,
              text: Y_AXIS_TITLE,
              color: "#000",
              font: { family: FONT, size: 16 },
              padding: { top: 5.4, bottom: 0 },
            },
          },
        },
      } as any,
      plugins: [decorPlugin as any],
    });
    return () => chart.destroy();
  }, [idx]);
  const col = idx % 3;
  const row = Math.floor(idx / 3);
  return (
    <canvas
      ref={ref}
      width={CANVAS_W}
      height={CANVAS_H}
      style={{
        position: "absolute",
        left: COL_LEFT[col] - Y_AXIS_W,
        top: ROW_TOP[row] - PAD_TOP,
        width: CANVAS_W,
        height: CANVAS_H,
      }}
    />
  );
}

export default function App() {
  return (
    <div style={{ position: "absolute", left: 0, top: 0, width: 1938, height: 745, background: "#fff", overflow: "hidden" }}>
      <div
        style={{
          position: "absolute",
          left: 0,
          top: 11,
          width: 1938,
          textAlign: "center",
          fontFamily: FONT,
          fontSize: 22.8,
          lineHeight: "27px",
          color: "#000",
        }}
      >
        {SUPTITLE_LINES.map((t, i) => (
          <div key={i}>{t}</div>
        ))}
      </div>
      {PANEL_LABELS.map((_, i) => (
        <Panel key={i} idx={i} />
      ))}
    </div>
  );
}
